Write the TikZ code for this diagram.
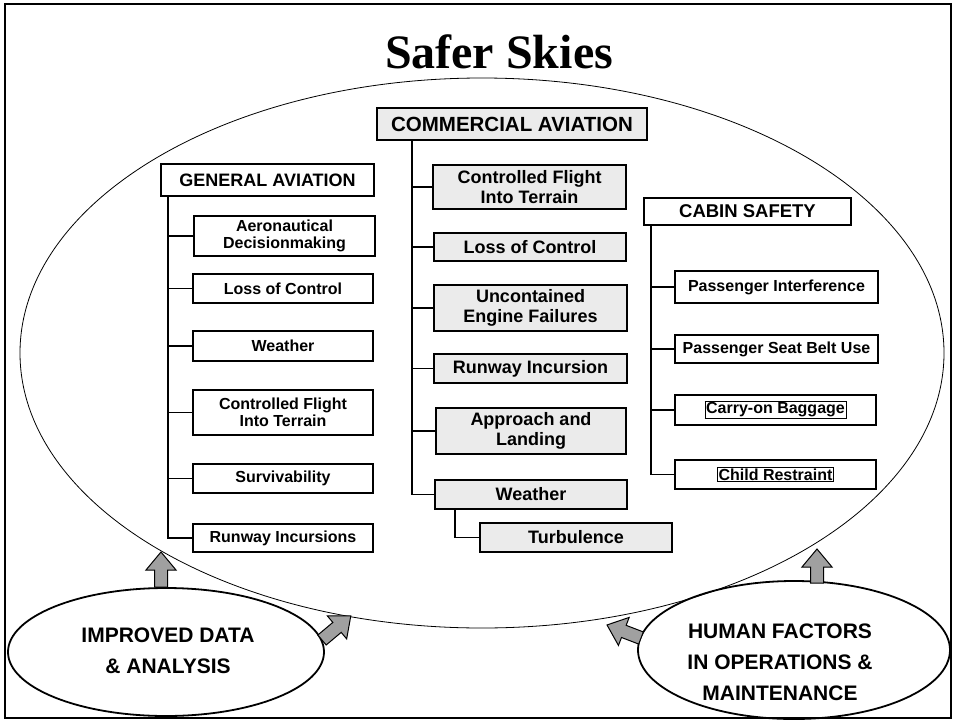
\documentclass[tikz,border=0pt]{standalone}
\usepackage{fontspec}
\setmainfont{Liberation Sans}
\newfontfamily\titlefont{Liberation Serif}
\usetikzlibrary{shapes.geometric}
\definecolor{boxgray}{HTML}{EBEBEB}
\definecolor{arrgray}{HTML}{A0A0A0}
\tikzset{
  box/.style={draw, line width=1.8pt, inner sep=2pt, align=center},
  gabox/.style={box, fill=white, font=\fontsize{16}{17.5}\selectfont\bfseries},
  cmbox/.style={box, fill=boxgray, font=\fontsize{18}{19.5}\selectfont\bfseries},
  csbox/.style={box, fill=white, font=\fontsize{16}{17.5}\selectfont\bfseries},
  conn/.style={line width=1.8pt},
  barrow/.style={draw, fill=arrgray, line width=1pt, line join=miter},
  oval/.style={ellipse, draw, line width=1.8pt, inner sep=0pt},
  ovaltext/.style={font=\fontsize{21}{31}\selectfont\bfseries, align=center},
}
\newcommand\blockarrow[4]{%
  \draw[barrow, shift={(#1,#2)}, rotate=#3]
    (0,-6.5) -- ({#4-18},-6.5) -- ({#4-18},-15) -- (#4,0) --
    ({#4-18},15) -- ({#4-18},6.5) -- (0,6.5) -- cycle;}
\begin{document}
\begin{tikzpicture}[x=1pt, y=-1pt]
\useasboundingbox (0,0) rectangle (956,723);
% frame
\draw[line width=2.5pt] (5,4) rectangle (951,718);
% title
\node[font=\titlefont\fontsize{48}{48}\selectfont\bfseries, anchor=base] (title) at (499,68) {Safer Skies};
% big ellipse
\draw[line width=0.8pt] (482,353) ellipse [x radius=462, y radius=275];

% General aviation
\node[gabox, font=\fontsize{18}{19.5}\selectfont\bfseries, minimum width=213pt, minimum height=32pt] (ga) at (267.5,180) {GENERAL AVIATION};
\node[gabox, minimum width=181pt, minimum height=40pt] (ga1) at (284.5,236) {Aeronautical\\Decisionmaking};
\node[gabox, minimum width=180pt, minimum height=29pt] (ga2) at (283,288.5) {Loss of Control};
\node[gabox, minimum width=180pt, minimum height=30pt] (ga3) at (283,346) {Weather};
\node[gabox, minimum width=180pt, minimum height=45pt] (ga4) at (283,412.5) {Controlled Flight\\Into Terrain};
\node[gabox, minimum width=180pt, minimum height=29pt] (ga5) at (283,478.5) {Survivability};
\node[gabox, minimum width=180pt, minimum height=28pt] (ga6) at (283,538) {Runway Incursions};
\coordinate (gatop) at ([xshift=8pt]ga.south west);
\draw[conn] (gatop) |- (ga6.west);
\foreach \n in {ga1,ga2,ga3,ga4,ga5} \draw[conn] (gatop |- \n.west) -- (\n.west);

% Commercial aviation
\node[cmbox, font=\fontsize{20.5}{22}\selectfont\bfseries, minimum width=270pt, minimum height=32pt] (cm) at (512,124) {COMMERCIAL AVIATION};
\node[cmbox, minimum width=193pt, minimum height=44pt] (c1) at (529.5,187) {Controlled Flight\\Into Terrain};
\node[cmbox, minimum width=192pt, minimum height=28pt] (c2) at (530,247) {Loss of Control};
\node[cmbox, minimum width=193pt, minimum height=46pt] (c3) at (530.5,308) {Uncontained\\Engine Failures};
\node[cmbox, minimum width=193pt, minimum height=29pt] (c4) at (530.5,368.5) {Runway Incursion};
\node[cmbox, minimum width=190pt, minimum height=46pt] (c5) at (531,431) {Approach and\\Landing};
\node[cmbox, minimum width=192pt, minimum height=29pt] (c6) at (531,494.5) {Weather};
\node[cmbox, minimum width=192pt, minimum height=29pt] (c7) at (576,537.5) {Turbulence};
\coordinate (cmtop) at ([xshift=36pt]cm.south west);
\draw[conn] (cmtop) |- (c6.west);
\foreach \n in {c1,c2,c3,c4,c5} \draw[conn] (cmtop |- \n.west) -- (\n.west);
\coordinate (c6foot) at ([xshift=21pt]c6.south west);
\draw[conn] (c6foot) |- (c7.west);

% Cabin safety
\node[csbox, font=\fontsize{18.5}{20}\selectfont\bfseries, minimum width=207pt, minimum height=27pt] (cs) at (747.5,211.5) {CABIN SAFETY};
\node[csbox, minimum width=203pt, minimum height=32pt] (k1) at (776.5,287) {Passenger Interference};
\node[csbox, minimum width=203pt, minimum height=28pt] (k2) at (776.5,349) {Passenger Seat Belt Use};
\node[csbox, minimum width=201pt, minimum height=30pt] (k3) at (775.5,410) {{\fboxsep=1pt\fboxrule=0.6pt\fbox{Carry-on Baggage}}};
\node[csbox, minimum width=201pt, minimum height=29pt] (k4) at (775.5,474.5) {{\fboxsep=1pt\fboxrule=0.6pt\fbox{Child Restraint}}};
\coordinate (cstop) at ([xshift=8pt]cs.south west);
\draw[conn] (cstop) |- (k4.west);
\foreach \n in {k1,k2,k3} \draw[conn] (cstop |- \n.west) -- (\n.west);

% bottom ovals
\node[oval, minimum width=316pt, minimum height=128pt] (le) at (166,652) {};
\node[ovaltext] (lt) at (168,651) {IMPROVED DATA\\\& ANALYSIS};
\node[oval, minimum width=312pt, minimum height=138pt] (re) at (794,650) {};
\node[ovaltext] (rt) at (780,662) {HUMAN FACTORS\\IN OPERATIONS \&\\MAINTENANCE};

% block arrows
\blockarrow{161}{587}{90}{35}
\blockarrow{817}{583}{90}{34}
\blockarrow{322}{640}{40}{37.6}
\blockarrow{641}{638}{159}{36.4}
\end{tikzpicture}
\end{document}
